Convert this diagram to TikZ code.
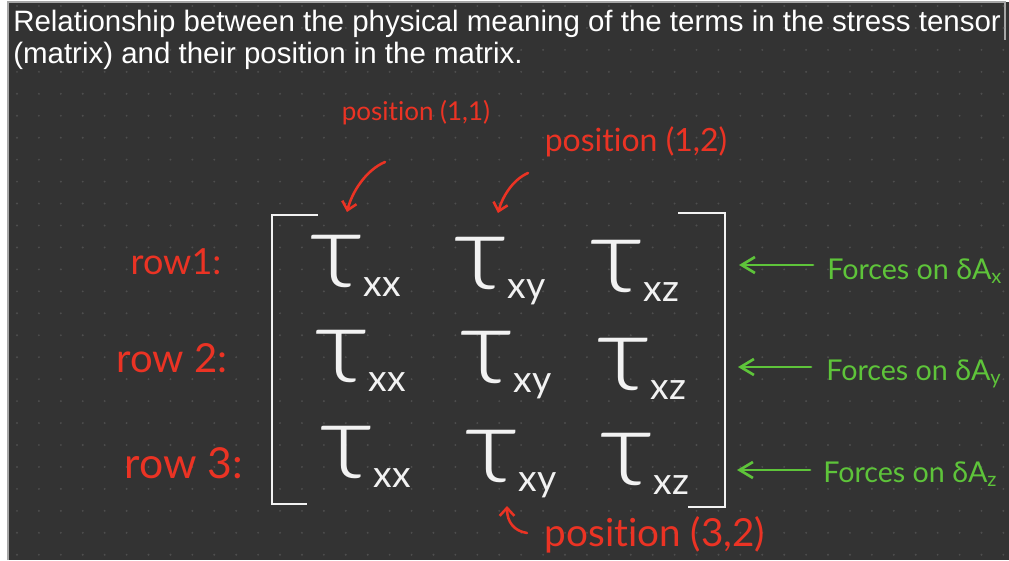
\documentclass[tikz,border=0pt]{standalone}
\usepackage{fontspec}
\setmainfont{Liberation Sans}
\newfontfamily\hand{Lato}[Ligatures={NoCommon}]
\newfontfamily\taufont{Lato Light}
\usetikzlibrary{arrows.meta}
\definecolor{bg}{HTML}{333333}
\definecolor{dotc}{HTML}{4E4E4E}
\definecolor{hred}{HTML}{EB3324}
\definecolor{hgreen}{HTML}{5EC43A}
\definecolor{chalk}{HTML}{F2F2F2}
\newcommand\tauent[1]{{\taufont\fontsize{80}{80}\selectfont\scalebox{1.12}[1]{τ}}{\hand\fontsize{28}{28}\selectfont\raisebox{-6.75pt}{#1}}}
\tikzset{
  title/.style={text=white, inner sep=0pt, font=\fontsize{22.1}{24}\selectfont},
  entry/.style={text=chalk, inner sep=0pt, anchor=base west},
  redlab/.style={text=hred, inner sep=0pt},
  greenlab/.style={text=hgreen, inner sep=0pt, anchor=base west, font=\hand\fontsize{21.5}{24}\selectfont},
  bracket/.style={draw=chalk, line width=2.2pt},
  rarrow/.style={draw=hred, line width=1.9pt, line cap=round, -{Straight Barb[length=6pt,width=11pt,line width=1.9pt]}},
  garrow/.style={draw=hgreen, line width=2pt, line cap=round, -{Straight Barb[length=10pt,width=12pt,line width=2pt]}},
}
\begin{document}
\begin{tikzpicture}[x=0.75pt,y=-0.75pt]
\useasboundingbox (0,0) rectangle (1009,560);
\fill[white] (0,0) rectangle (1009,560);
\fill[bg] (8,2) rectangle (1009,560);
\draw[gray!70, line width=0.8pt] (8,560) -- (8,2) -- (1005,2) -- (1005,40);
\foreach \i in {0,...,45} {
  \foreach \j in {0,...,25} {
    \fill[dotc] (17+21.92*\i, 6+21.95*\j) circle (0.8pt);
  }
}
% title
\node[title, anchor=base west] (t1) at (13,32) {Relationship between the physical meaning of the terms in the stress tensor};
\node[title, anchor=base west] (t2) at (13,64) {(matrix) and their position in the matrix.};
% brackets
\draw[bracket] (318,215) -- (272,215) -- (272,504) -- (307,504);
\draw[bracket] (678,213) -- (725,213) -- (725,507) -- (688,507);
% entries
\node[entry] (e11) at (309,287) {\tauent{xx}};
\node[entry] (e12) at (453,289) {\tauent{xy}};
\node[entry] (e13) at (589,292) {\tauent{xz}};
\node[entry] (e21) at (314,382) {\tauent{xx}};
\node[entry] (e22) at (459,383) {\tauent{xy}};
\node[entry] (e23) at (596,390) {\tauent{xz}};
\node[entry] (e31) at (319,478) {\tauent{xx}};
\node[entry] (e32) at (464,482) {\tauent{xy}};
\node[entry] (e33) at (599,485) {\tauent{xz}};
% row labels
\node[redlab, font=\hand\fontsize{27}{28}\selectfont] (r1) at (176,262) {row1:};
\node[redlab, font=\hand\fontsize{30}{31}\selectfont] (r2) at (172,358) {row 2:};
\node[redlab, font=\hand\fontsize{32}{33}\selectfont] (r3) at (184,463) {row 3:};
% position labels
\node[redlab, font=\hand\fontsize{19.5}{20}\selectfont] (p11) at (416,113) {position (1,1)};
\node[redlab, font=\hand\fontsize{24}{25}\selectfont] (p12) at (636,142) {position (1,2)};
\node[redlab, font=\hand\fontsize{29}{30}\selectfont] (p32) at (655,535) {position (3,2)};
\coordinate (a1s) at (385,162); \coordinate (a1e) at (347,212);
\coordinate (a2s) at (528,173); \coordinate (a2e) at (498,213);
\coordinate (a3s) at (527,533); \coordinate (a3e) at (507,506);
\draw[rarrow] (a1s) .. controls (366,170) and (352,192) .. (a1e);
\draw[rarrow] (a2s) .. controls (512,180) and (502,198) .. (a2e);
\draw[rarrow] (a3s) .. controls (514,531) and (507,522) .. (a3e);
% green labels
\node[greenlab] (f1) at (827,279) {Forces on δA\textsubscript{x}};
\node[greenlab] (f2) at (826,380) {Forces on δA\textsubscript{y}};
\node[greenlab] (f3) at (823,482) {Forces on δA\textsubscript{z}};
\coordinate (g1s) at (813,265); \coordinate (g1e) at (739,265);
\coordinate (g2s) at (811,367); \coordinate (g2e) at (738,367);
\coordinate (g3s) at (810,470); \coordinate (g3e) at (737,470);
\draw[garrow] (g1s) -- (g1e);
\draw[garrow] (g2s) -- (g2e);
\draw[garrow] (g3s) -- (g3e);
\end{tikzpicture}
\end{document}
